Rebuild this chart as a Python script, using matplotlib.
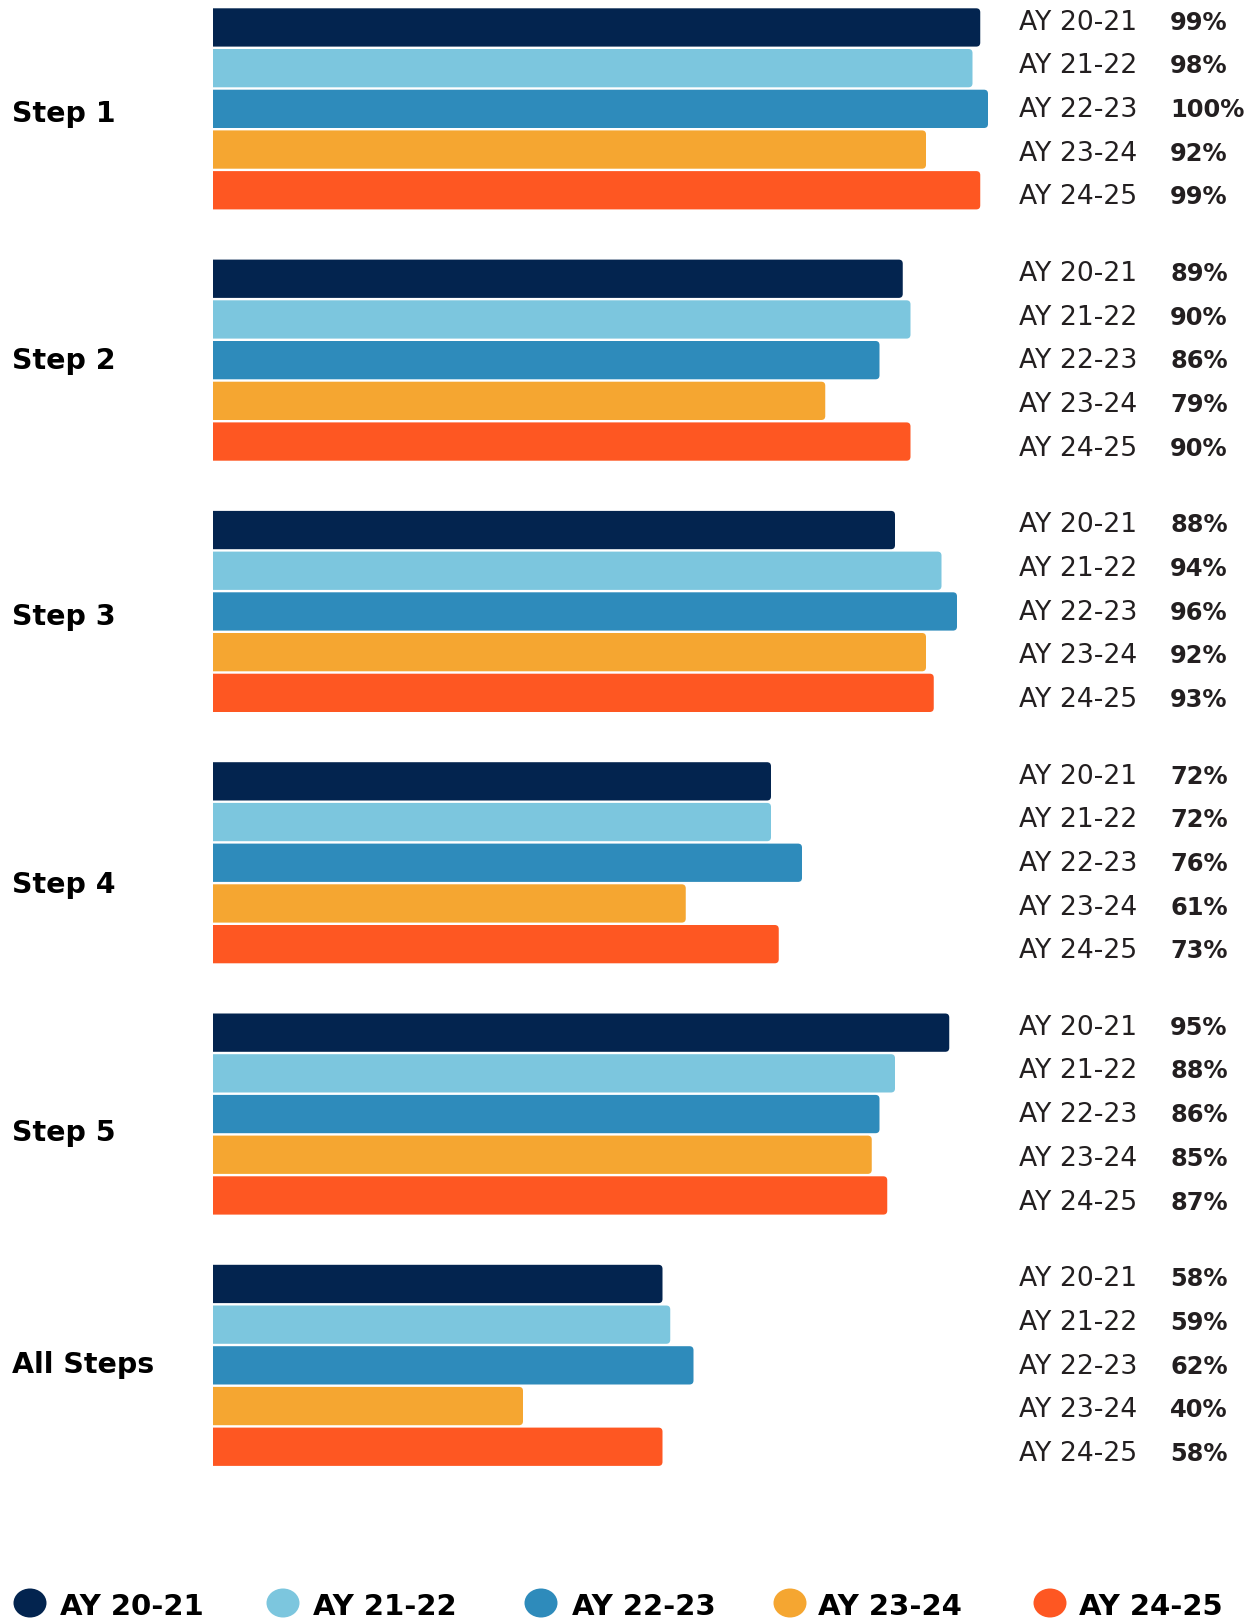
import matplotlib
matplotlib.use("Agg")
import matplotlib.pyplot as plt
from matplotlib.patches import Ellipse, FancyBboxPatch, Rectangle

# ---------------- data ----------------
steps = ["Step 1", "Step 2", "Step 3", "Step 4", "Step 5", "All Steps"]
years = ["AY 20-21", "AY 21-22", "AY 22-23", "AY 23-24", "AY 24-25"]
ay_20_21 = [99, 89, 88, 72, 95, 58]
ay_21_22 = [98, 90, 94, 72, 88, 59]
ay_22_23 = [100, 86, 96, 76, 86, 62]
ay_23_24 = [92, 79, 92, 61, 85, 40]
ay_24_25 = [99, 90, 93, 73, 87, 58]
series = [ay_20_21, ay_21_22, ay_22_23, ay_23_24, ay_24_25]
colors = ["#03244F", "#7CC6DE", "#2E8BBB", "#F5A631", "#FE5722"]

# ---------------- layout (pixels) ----------------
W, H = 1253, 1618
X0 = 213.0            # pixel where 0% sits
PX_PER_PCT = 7.75     # pixels per percentage point
GROUP_TOP0 = 8.3
GROUP_PITCH = 251.3
BAR_PITCH = 40.7
BAR_H = 38.3
LABEL_C0 = 20.3
LABEL_PITCH = 43.7
STEP_BASELINES = [121.7, 369.3, 625.0, 892.7, 1140.7, 1373.3]
RADIUS_PX = 4.0

fig = plt.figure(figsize=(W / 100, H / 100), dpi=100)
fig.patch.set_facecolor("white")

ax = fig.add_axes([0, 0, 1, 1])
ax.set_xlim(-X0 / PX_PER_PCT, (W - X0) / PX_PER_PCT)
ax.set_ylim(H, 0)
ax.axis("off")

clip_rect = Rectangle((0, -10), 200, H + 20, transform=ax.transData)
for i, (vals, col) in enumerate(zip(series, colors)):
    ys = [GROUP_TOP0 + g * GROUP_PITCH + i * BAR_PITCH + BAR_H / 2 for g in range(len(steps))]
    bars = ax.barh(ys, vals, height=BAR_H, left=0, color=col, linewidth=0)
    # give each bar rounded right-hand corners (left side stays square via clipping)
    for r in bars:
        x, y, w, h = r.get_x(), r.get_y(), r.get_width(), r.get_height()
        r.set_visible(False)
        rx = RADIUS_PX / PX_PER_PCT
        p = FancyBboxPatch((x - 2 * rx, y), w + 2 * rx, h,
                           boxstyle=f"round,pad=0,rounding_size={rx}",
                           mutation_aspect=PX_PER_PCT,
                           facecolor=col, edgecolor="none", linewidth=0)
        ax.add_patch(p)
        p.set_clip_path(clip_rect)

# overlay axes in pixel units for text
tx = fig.add_axes([0, 0, 1, 1])
tx.set_xlim(0, W)
tx.set_ylim(H, 0)
tx.axis("off")
tx.patch.set_alpha(0)

FAM = ["DejaVu Sans"]

for g, step in enumerate(steps):
    tx.text(12, STEP_BASELINES[g], step, fontsize=20.5, fontweight="bold", family=FAM,
            color="#000000", va="baseline", ha="left")
    for i, yr in enumerate(years):
        cy = LABEL_C0 + g * GROUP_PITCH + i * LABEL_PITCH
        tx.text(1019, cy + 9.3, yr, fontsize=19.2, family=FAM, color="#231F20",
                va="baseline", ha="left")
        tx.text(1170, cy + 9.3, f"{series[i][g]}%", fontsize=17.4, fontweight="bold",
                family=FAM, color="#231F20", va="baseline", ha="left")

# legend
leg_circle_x = [30, 283, 541, 790, 1050]
leg_text_x = [60, 313, 572, 818, 1079]
for cxp, txp, yr, col in zip(leg_circle_x, leg_text_x, years, colors):
    tx.add_patch(Ellipse((cxp, 1603), 33, 29, facecolor=col, edgecolor="none"))
    tx.text(txp, 1615, yr, fontsize=21, fontweight="bold", family=FAM,
            color="#000000", va="baseline", ha="left")

fig.savefig("out.png", dpi=100, facecolor="white")
